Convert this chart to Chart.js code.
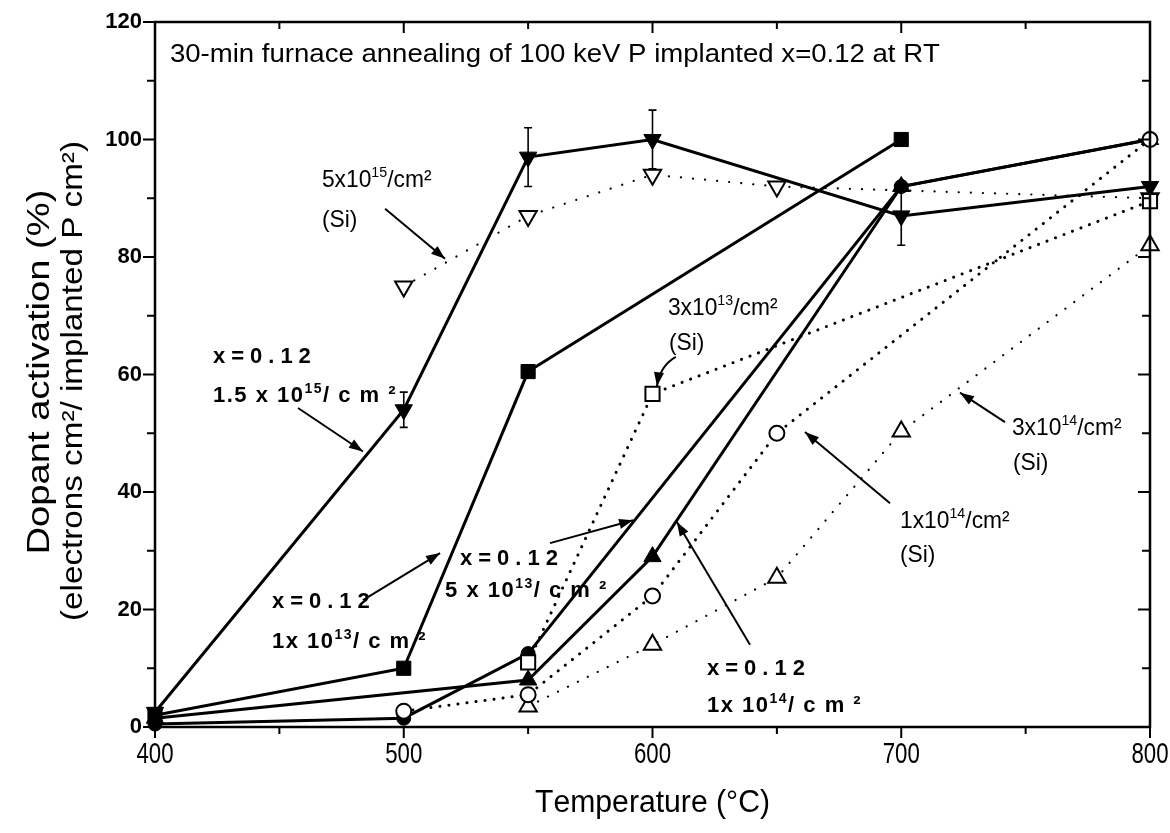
<!DOCTYPE html>
<html>
<head>
<meta charset="utf-8">
<script src="https://cdn.jsdelivr.net/npm/chart.js@4.4.0/dist/chart.umd.min.js"></script>
<style>
  html, body { margin: 0; padding: 0; background: #fff; }
  #c { display: block; }
</style>
</head>
<body>
<canvas id="c" width="1170" height="833"></canvas>
<script>
// ---- Data: dopant activation (%) vs. 30-min anneal temperature (°C) ----
// x = 0.12 implants (solid lines)
const tempsX15e15 = [400, 500, 550, 600, 700, 800];
const actX15e15   = [2.5, 54, 97, 100, 87, 92];
const errX15e15   = [0, 3, 5, 5, 5, 0];
const tempsX1e13  = [400, 500, 550, 700];
const actX1e13    = [2, 10, 60.5, 100];
const tempsX5e13  = [400, 500, 550, 700, 800];
const actX5e13    = [0.5, 1.5, 12.5, 92, 100];
const tempsX1e14  = [400, 550, 600, 700, 800];
const actX1e14    = [1.5, 8, 29, 92, 100];
// Si reference implants (dotted lines)
const tempsSi5e15 = [500, 550, 600, 650, 800];
const actSi5e15   = [75, 87, 94, 92, 90];
const tempsSi3e13 = [550, 600, 800];
const actSi3e13   = [11, 56.7, 89.5];
const tempsSi1e14 = [500, 550, 600, 650, 800];
const actSi1e14   = [2.7, 5.5, 22.3, 50, 100];
const tempsSi3e14 = [550, 600, 650, 700, 800];
const actSi3e14   = [3.5, 14, 25.4, 50.3, 82];
// Axis ticks
const xTickLabels = [400, 500, 600, 700, 800];
const yTickLabels = [0, 20, 40, 60, 80, 100, 120];

const SANS = '"Liberation Sans", Arial, Helvetica, sans-serif';

const toXY = (ts, vs) => ts.map((t, i) => ({ x: t, y: vs[i] }));

function solid(data, style, rot, r) {
  return {
    data, borderColor: '#000', borderWidth: 3, tension: 0, fill: false, clip: false,
    pointStyle: style, pointRotation: rot || 0, pointRadius: r,
    pointBackgroundColor: '#000', pointBorderColor: '#000', pointBorderWidth: 1
  };
}
function dotted(data, style, rot, r, lw, gap) {
  return {
    data, borderColor: '#000', borderWidth: lw, tension: 0, fill: false, clip: false,
    borderDash: [0.1, gap], borderCapStyle: 'round',
    pointStyle: style, pointRotation: rot || 0, pointRadius: r,
    pointBackgroundColor: '#fff', pointBorderColor: '#000', pointBorderWidth: 2
  };
}

// Datasets listed top-most first (Chart.js paints index 0 last)
const datasets = [
  dotted(toXY(tempsSi1e14, actSi1e14), 'circle', 0, 7.5, 3, 9),
  dotted(toXY(tempsSi3e13, actSi3e13), 'rect', 0, 10, 3, 9),
  dotted(toXY(tempsSi3e14, actSi3e14), 'triangle', 0, 10, 2.2, 11),
  solid(toXY(tempsX1e14, actX1e14), 'triangle', 0, 10),
  solid(toXY(tempsX5e13, actX5e13), 'circle', 0, 7),
  solid(toXY(tempsX1e13, actX1e13), 'rect', 0, 10),
  solid(toXY(tempsX15e15, actX15e15), 'triangle', 180, 10),
  dotted(toXY(tempsSi5e15, actSi5e15), 'triangle', 180, 10, 2.2, 12)
];

// ---- Text helpers (superscripts via ^{..}) ----
function parseRich(str) {
  const out = []; let i = 0;
  while (i < str.length) {
    if (str.startsWith('^{', i)) {
      const j = str.indexOf('}', i);
      out.push({ t: str.slice(i + 2, j), sup: true }); i = j + 1;
    } else {
      let j = str.indexOf('^{', i); if (j < 0) j = str.length;
      out.push({ t: str.slice(i, j), sup: false }); i = j;
    }
  }
  return out;
}
function fontOf(st, sup) {
  const sz = sup ? Math.round(st.size * 0.64) : st.size;
  return (st.bold ? 'bold ' : '') + sz + 'px ' + (st.family || SANS);
}
function drawRich(ctx, str, x, y, st) {
  const segs = parseRich(str);
  const sp = st.spacing || 0;
  let w = 0;
  for (const s of segs) {
    ctx.font = fontOf(st, s.sup);
    for (const ch of s.t) w += ctx.measureText(ch).width + sp;
  }
  w -= sp;
  let sx = st.sx || 1;
  if (st.fit) sx = st.fit / w;
  ctx.save();
  ctx.translate(x, y);
  if (st.rotate) ctx.rotate(st.rotate);
  ctx.scale(sx, 1);
  ctx.fillStyle = '#000';
  ctx.textBaseline = st.baseline || 'alphabetic';
  ctx.textAlign = 'left';
  let cx = st.align === 'center' ? -w / 2 : st.align === 'right' ? -w : 0;
  for (const s of segs) {
    ctx.font = fontOf(st, s.sup);
    const dy = s.sup ? -st.size * 0.42 : 0;
    for (const ch of s.t) {
      ctx.fillText(ch, cx, dy);
      cx += ctx.measureText(ch).width + sp;
    }
  }
  ctx.restore();
}

// ---- Annotations, placed in data coordinates (°C, %) ----
const siStyle   = { size: 24, sx: 0.95 };
const boldStyle = { size: 22, bold: true, spacing: 1.5 };
const xeqStyle  = { size: 22, bold: true, spacing: 6 };
const notes = [
  { at: [406.0, 113.2], text: '30-min furnace annealing of 100 keV P implanted x=0.12 at RT', st: { size: 25, fit: 770 } },
  { at: [467.1, 91.9], text: '5x10^{15}/cm²', st: siStyle },
  { at: [467.1, 85.1], text: '(Si)', st: siStyle },
  { at: [606.2, 70.1], text: '3x10^{13}/cm²', st: siStyle },
  { at: [606.6, 64.2], text: '(Si)', st: siStyle },
  { at: [699.5, 33.9], text: '1x10^{14}/cm²', st: siStyle },
  { at: [699.5, 28.1], text: '(Si)', st: siStyle },
  { at: [744.5, 49.7], text: '3x10^{14}/cm²', st: siStyle },
  { at: [744.9, 43.7], text: '(Si)', st: siStyle },
  { at: [423.3, 62.0], text: 'x=0.12', st: xeqStyle },
  { at: [423.3, 55.3], text: '1.5 x 10^{15}/ c m ²', st: boldStyle },
  { at: [447.0, 20.3], text: 'x=0.12', st: xeqStyle },
  { at: [447.0, 13.4], text: '1x 10^{13}/ c m ²', st: boldStyle },
  { at: [522.6, 27.6], text: 'x=0.12', st: xeqStyle },
  { at: [516.6, 22.1], text: '5 x 10^{13}/ c m ²', st: boldStyle },
  { at: [621.9, 8.9], text: 'x=0.12', st: xeqStyle },
  { at: [621.9, 2.55], text: '1x 10^{14}/ c m ²', st: boldStyle }
];
const arrows = [
  { from: [492.5, 88.2], to: [516.6, 79.7] },
  { from: [457.5, 54.3], to: [483.6, 46.9] },
  { from: [483.6, 21.6], to: [514.6, 29.6] },
  { from: [558.8, 31.3], to: [592.2, 35.2] },
  { from: [639.2, 14.0], to: [609.8, 34.9] },
  { from: [695.5, 38.1], to: [661.3, 50.2] },
  { from: [741.7, 51.9], to: [723.6, 56.9] },
  { from: [609.4, 63.0], to: [601.8, 58.0], via: [603.0, 61.5] }
];

function arrowHead(ctx, x, y, ang) {
  const L = 14, W = 5;
  ctx.beginPath();
  ctx.moveTo(x, y);
  ctx.lineTo(x - L * Math.cos(ang) + W * Math.sin(ang), y - L * Math.sin(ang) - W * Math.cos(ang));
  ctx.lineTo(x - L * Math.cos(ang) - W * Math.sin(ang), y - L * Math.sin(ang) + W * Math.cos(ang));
  ctx.closePath();
  ctx.fill();
}

const decor = {
  id: 'decor',
  beforeDatasetsDraw(chart) {
    const { ctx, scales: { x, y } } = chart;
    ctx.save();
    ctx.strokeStyle = '#000';
    ctx.lineWidth = 1.6;
    tempsX15e15.forEach((t, i) => {
      const e = errX15e15[i];
      if (!e) return;
      const px = x.getPixelForValue(t);
      const top = y.getPixelForValue(actX15e15[i] + e);
      const bot = y.getPixelForValue(actX15e15[i] - e);
      ctx.beginPath();
      ctx.moveTo(px, top); ctx.lineTo(px, bot);
      ctx.moveTo(px - 4, top); ctx.lineTo(px + 4, top);
      ctx.moveTo(px - 4, bot); ctx.lineTo(px + 4, bot);
      ctx.stroke();
    });
    ctx.restore();
  },
  afterDraw(chart) {
    const { ctx, chartArea: a, scales: { x, y } } = chart;
    ctx.save();
    ctx.strokeStyle = '#000';
    ctx.fillStyle = '#000';
    // frame
    ctx.lineWidth = 2.5;
    ctx.strokeRect(a.left, a.top, a.right - a.left, a.bottom - a.top);
    // ticks
    ctx.lineWidth = 2;
    ctx.beginPath();
    for (let t = 400; t <= 800; t += 50) {
      const px = x.getPixelForValue(t);
      const len = t % 100 === 0 ? 11 : 7;
      ctx.moveTo(px, a.bottom); ctx.lineTo(px, a.bottom + len);
      ctx.moveTo(px, a.top); ctx.lineTo(px, a.top + len);
    }
    for (let v = 0; v <= 120; v += 10) {
      const py = y.getPixelForValue(v);
      const len = v % 20 === 0 ? 12 : 8;
      ctx.moveTo(a.left, py); ctx.lineTo(a.left - len, py);
      ctx.moveTo(a.right, py); ctx.lineTo(a.right - len, py);
    }
    ctx.stroke();
    // tick labels
    xTickLabels.forEach(t => {
      drawRich(ctx, String(t), x.getPixelForValue(t), a.bottom + 36, { size: 30, sx: 0.74, align: 'center' });
    });
    yTickLabels.forEach(v => {
      drawRich(ctx, String(v), a.left - 13, y.getPixelForValue(v), { size: 22, bold: true, align: 'right', baseline: 'middle' });
    });
    // axis titles
    drawRich(ctx, 'Temperature (°C)', (a.left + a.right) / 2, 812, { size: 31, fit: 235, align: 'center' });
    drawRich(ctx, 'Dopant activation (%)', 40, 372, { size: 31, fit: 365, align: 'center', baseline: 'middle', rotate: -Math.PI / 2 });
    drawRich(ctx, '(electrons cm²/ implanted P cm²)', 74, 381, { size: 29, fit: 480, align: 'center', baseline: 'middle', rotate: -Math.PI / 2 });
    // notes
    notes.forEach(n => {
      drawRich(ctx, n.text, x.getPixelForValue(n.at[0]), y.getPixelForValue(n.at[1]), n.st);
    });
    // arrows
    ctx.lineWidth = 2;
    arrows.forEach(ar => {
      const x0 = x.getPixelForValue(ar.from[0]), y0 = y.getPixelForValue(ar.from[1]);
      const x1 = x.getPixelForValue(ar.to[0]), y1 = y.getPixelForValue(ar.to[1]);
      let ang;
      ctx.beginPath();
      ctx.moveTo(x0, y0);
      if (ar.via) {
        const cx = x.getPixelForValue(ar.via[0]), cy = y.getPixelForValue(ar.via[1]);
        ctx.quadraticCurveTo(cx, cy, x1, y1);
        ang = Math.atan2(y1 - cy, x1 - cx);
      } else {
        ctx.lineTo(x1, y1);
        ang = Math.atan2(y1 - y0, x1 - x0);
      }
      ctx.stroke();
      arrowHead(ctx, x1, y1, ang);
    });
    ctx.restore();
  }
};

new Chart(document.getElementById('c'), {
  type: 'line',
  data: { datasets },
  options: {
    responsive: false,
    animation: false,
    devicePixelRatio: 1,
    layout: { padding: { top: 22, right: 20, left: 0, bottom: 0 } },
    plugins: { legend: { display: false }, tooltip: { enabled: false } },
    scales: {
      x: {
        type: 'linear', min: 400, max: 800,
        grid: { display: false }, border: { display: false },
        ticks: { display: false, stepSize: 100 },
        afterFit(s) { s.height = 106; }
      },
      y: {
        type: 'linear', min: 0, max: 120,
        grid: { display: false }, border: { display: false },
        ticks: { display: false, stepSize: 20 },
        afterFit(s) { s.width = 155; }
      }
    }
  },
  plugins: [decor]
});
</script>
</body>
</html>
